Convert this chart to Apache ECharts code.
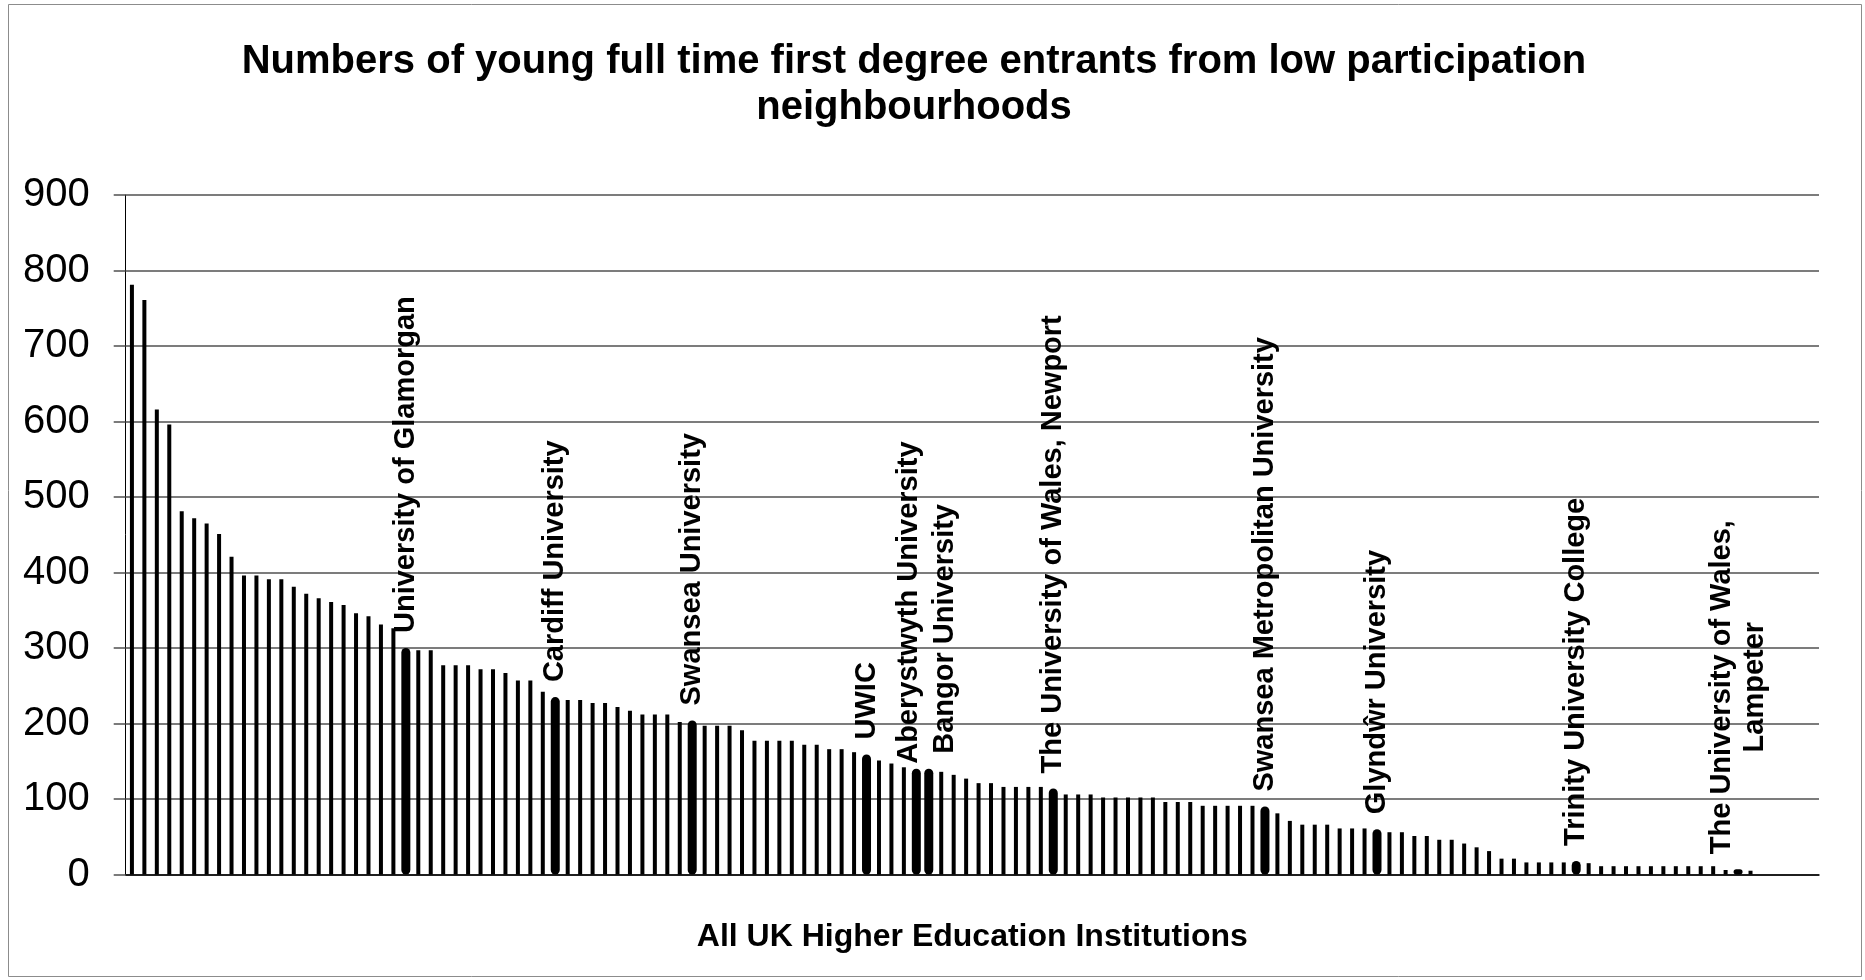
<!DOCTYPE html>
<html>
<head>
<meta charset="utf-8">
<script src="https://cdn.jsdelivr.net/npm/echarts@6/dist/echarts.min.js"></script>
<style>
  html, body { margin: 0; padding: 0; background: #fff; }
  #chart { width: 1865px; height: 980px; }
</style>
</head>
<body>
<div id="chart"></div>
<script>
// Young full time first degree entrants from low participation neighbourhoods,
// one value per UK higher education institution, ranked highest to lowest.
const entrants = [
  781, 761, 616, 596, 481, 472, 465, 451, 421, 396,
  396, 391, 391, 381, 372, 366, 361, 357, 346, 342,
  331, 326, 300, 297, 297, 277, 277, 277, 272, 272,
  267, 257, 257, 242, 235, 231, 231, 227, 227, 222,
  217, 212, 212, 212, 202, 204, 197, 197, 197, 191,
  177, 177, 177, 177, 172, 172, 166, 166, 162, 159,
  151, 147, 142, 140, 140, 136, 132, 127, 121, 121,
  116, 116, 116, 116, 114, 106, 106, 106, 102, 102,
  102, 102, 102, 96, 96, 96, 91, 91, 91, 91,
  91, 90, 81, 71, 66, 66, 66, 61, 61, 61,
  60, 56, 56, 51, 51, 46, 46, 41, 36, 31,
  21, 21, 16, 16, 16, 16, 18, 15, 11, 11,
  11, 11, 11, 11, 11, 11, 11, 11, 6, 7,
  5, 0, 0, 0, 0, 0
];

// Welsh institutions: position in the ranking and their names
const welshRank = [22, 34, 45, 59, 63, 64, 74, 91, 100, 116, 129];
const welshNames = [
  'University of Glamorgan',
  'Cardiff University',
  'Swansea University',
  'UWIC',
  'Aberystwyth University',
  'Bangor University',
  'The University of Wales, Newport',
  'Swansea Metropolitan University',
  'Glyndŵr University',
  'Trinity University College',
  'The University of Wales,\nLampeter'
];

const yMin = 0, yMax = 900, yStep = 100;

// Screen-space nudges [right, down] so the two neighbouring labels do not collide
const labelNudge = { 63: [-7, 10], 64: [16, 0] };

const FONT = '"Liberation Sans", Arial, Helvetica, sans-serif';
const ranks = entrants.map((_, i) => String(i + 1));

// Label offsets are applied in the rotated text frame (rotate 90):
// screen [dx, dy] -> text frame [-dy, dx]
const toTextFrame = d => [-d[1], d[0]];

const otherData = entrants.map((v, i) => welshRank.includes(i) ? '-' : v);
const welshData = entrants.map((v, i) => {
  const k = welshRank.indexOf(i);
  if (k < 0) return '-';
  const item = { value: v, name: welshNames[k] };
  if (labelNudge[i]) item.label = { offset: toTextFrame(labelNudge[i]) };
  return item;
});

const chart = echarts.init(document.getElementById('chart'), null, { renderer: 'canvas' });

chart.setOption({
  backgroundColor: '#ffffff',
  animation: false,
  title: {
    text: 'Numbers of young full time first degree entrants from low participation\nneighbourhoods',
    left: 914,
    top: 39,
    padding: 0,
    textAlign: 'center',
    textStyle: { fontFamily: FONT, fontSize: 40, fontWeight: 'bold', color: '#000', lineHeight: 46 }
  },
  graphic: [{
    type: 'rect',
    silent: true,
    shape: { x: 8.5, y: 4.5, width: 1853, height: 972 },
    style: { fill: 'none', stroke: '#8c8c8c', lineWidth: 1 }
  }],
  grid: { left: 125.7, right: 46, top: 195, bottom: 105.5, containLabel: false },
  xAxis: [{
    type: 'category',
    data: ranks,
    boundaryGap: true,
    axisLine: { show: true, lineStyle: { color: '#000', width: 1.5 } },
    axisTick: { show: false },
    axisLabel: { show: false },
    splitLine: { show: false },
    name: 'All UK Higher Education Institutions',
    nameLocation: 'middle',
    nameGap: 47,
    nameTextStyle: { fontFamily: FONT, fontSize: 32, fontWeight: 'bold', color: '#000', lineHeight: 32 }
  }, {
    type: 'category',
    data: ranks,
    boundaryGap: true,
    show: false
  }],
  yAxis: {
    type: 'value',
    min: yMin,
    max: yMax,
    interval: yStep,
    axisLine: { show: true, lineStyle: { color: '#000', width: 1 } },
    axisTick: { show: true, length: 12, lineStyle: { color: '#505050', width: 1.5 } },
    axisLabel: { fontFamily: FONT, fontSize: 40, color: '#000', margin: 36 },
    splitLine: { show: true, lineStyle: { color: '#505050', width: 1.5 } }
  },
  series: [{
    name: 'Other institutions',
    type: 'bar',
    xAxisIndex: 0,
    data: otherData,
    barWidth: 4,
    itemStyle: { color: '#000' }
  }, {
    name: 'Welsh institutions',
    type: 'bar',
    xAxisIndex: 1,
    data: welshData,
    barWidth: 9,
    itemStyle: { color: '#000', borderRadius: 4.5 },
    label: {
      show: true,
      position: 'top',
      distance: 15,
      rotate: 90,
      align: 'left',
      verticalAlign: 'middle',
      color: '#000',
      fontFamily: FONT,
      fontSize: 29,
      fontWeight: 'bold',
      formatter: p => p.name.split('\n').map(s => '{c|' + s + '}').join('\n'),
      rich: {
        c: { align: 'center', fontFamily: FONT, fontSize: 29, fontWeight: 'bold', color: '#000', lineHeight: 33 }
      }
    }
  }]
});
</script>
</body>
</html>
